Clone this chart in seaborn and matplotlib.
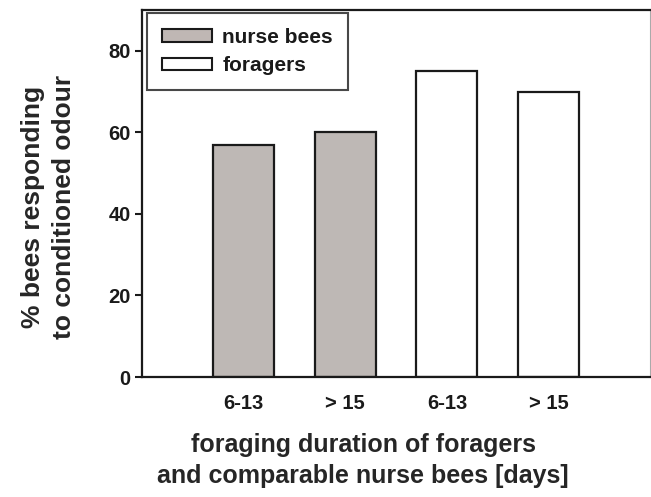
import numpy as np
import pandas as pd
import seaborn as sns
import matplotlib as mpl
import matplotlib.pyplot as plt
from matplotlib.patches import Patch

sns.set_theme(style="white")
plt.rcParams["font.family"] = ["Liberation Sans", "DejaVu Sans"]
plt.rcParams["font.weight"] = "bold"
plt.rcParams["text.color"] = "#1a1a1a"
plt.rcParams["xtick.color"] = "#1a1a1a"
plt.rcParams["ytick.color"] = "#1a1a1a"

groups = ["nurse bees", "nurse bees", "foragers", "foragers"]
durations = ["6-13", "> 15", "6-13", "> 15"]
responding = [57, 60, 75, 70]
colors = {"nurse bees": "#bfb7b4", "foragers": "#ffffff"}

df = pd.DataFrame({
    "group": groups,
    "duration": durations,
    "pct": responding,
})
df["bar"] = df["group"] + " " + df["duration"]

ink = "#1a1a1a"
fig = plt.figure(figsize=(6.51, 4.97), dpi=100)
ax = fig.add_axes([0.218, 0.2414, 0.781, 0.7384])

sns.barplot(ax=ax, data=df, x="bar", y="pct", hue="group", palette=colors,
            width=0.6, edgecolor=ink, linewidth=1.6, legend=False)

ax.set_xlim(-1, 4)
ax.set_ylim(0, 90)
ax.set_yticks([0, 20, 40, 60, 80])
ax.set_xticks(range(4))
ax.set_xticklabels(durations)
ax.tick_params(axis="y", left=True, length=5, width=1.5, direction="out",
               labelsize=14.5, pad=3, color=ink)
ax.tick_params(axis="x", bottom=False, labelsize=14.5, pad=6)

for s in ["left", "bottom", "top"]:
    ax.spines[s].set_color(ink)
    ax.spines[s].set_linewidth(1.6)
ax.spines["right"].set_color("#aaaaaa")
ax.spines["right"].set_linewidth(0.8)

ax.set_xlabel("foraging duration of foragers\nand comparable nurse bees [days]",
              fontsize=18, fontweight="bold", linespacing=1.4)
ax.xaxis.set_label_coords(0.435, -0.152)
ax.set_ylabel("% bees responding\nto conditioned odour", fontsize=19,
              fontweight="bold", linespacing=1.35)
ax.yaxis.set_label_coords(-0.13, 0.463)

handles = [Patch(facecolor=colors[g], edgecolor=ink, linewidth=1.5, label=g)
           for g in ["nurse bees", "foragers"]]
leg = ax.legend(handles=handles, loc="upper left", bbox_to_anchor=(0.0098, 0.992),
                borderaxespad=0, frameon=True, fancybox=False, fontsize=15,
                handlelength=2.4, handleheight=0.55, handletextpad=0.5,
                borderpad=0.72, labelspacing=0.45)
leg.get_frame().set_edgecolor(ink)
leg.get_frame().set_linewidth(1.5)

fig.savefig("out.png", dpi=100)
